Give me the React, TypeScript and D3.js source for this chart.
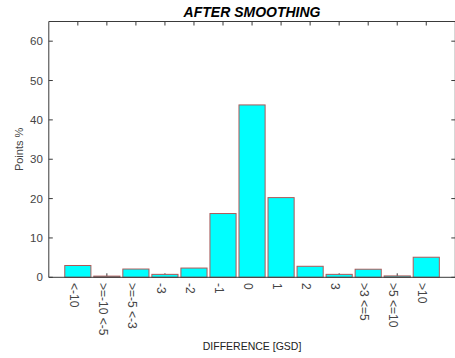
import React from "react";
import * as d3 from "d3";

const categories = ["<-10", ">=-10 <-5", ">=-5 <-3", "-3", "-2", "-1", "0", "1", "2", "3", ">3 <=5", ">5 <=10", ">10"];
const values = [3.0, 0.3, 2.1, 0.75, 2.35, 16.2, 43.8, 20.25, 2.8, 0.75, 2.05, 0.35, 5.1];
const yTicks = [0, 10, 20, 30, 40, 50, 60];

const W = 455;
const H = 358;
const left = 48.8;
const right = 455.3;
const top = 21.5;
const bottom = 277.3;

export default function App() {
  const x = d3.scaleLinear().domain([0, 14]).range([left, right]);
  const y = d3.scaleLinear().domain([0, 65]).range([bottom, top]);
  const barW = 0.9;
  const axisColor = "#3a3a3a";
  const textColor = "#444";
  const font = "Arial, 'Liberation Sans', sans-serif";

  return (
    <svg width={W} height={H} style={{ position: "absolute", left: 0, top: 0, background: "#fff" }} fontFamily={font}>
      {/* inward ticks along bottom and top */}
      {categories.map((c, i) => (
        <g key={"xt" + c}>
          <line x1={x(i + 1)} x2={x(i + 1)} y1={bottom} y2={bottom - 4} stroke={axisColor} />
          <line x1={x(i + 1)} x2={x(i + 1)} y1={top} y2={top + 4} stroke={axisColor} />
        </g>
      ))}
      {/* bars */}
      {values.map((v, i) => (
        <rect
          key={"b" + i}
          x={x(i + 1 - barW / 2)}
          y={y(v)}
          width={x(barW) - x(0)}
          height={y(0) - y(v)}
          fill="#00ffff"
          stroke="#b05858"
          strokeWidth={1}
        />
      ))}
      {/* axes box */}
      <line x1={left} x2={left} y1={top} y2={bottom} stroke={axisColor} />
      <line x1={left} x2={right} y1={bottom} y2={bottom} stroke={axisColor} />
      <line x1={left} x2={right} y1={top} y2={top} stroke={axisColor} />
      <line x1={right} x2={right} y1={top} y2={bottom} stroke={axisColor} />
      {/* y ticks and labels */}
      {yTicks.map((t) => (
        <g key={"yt" + t}>
          <line x1={left} x2={left + 4} y1={y(t)} y2={y(t)} stroke={axisColor} />
          <line x1={right - 4} x2={right} y1={y(t)} y2={y(t)} stroke={axisColor} />
          <text x={left - 6} y={y(t)} dy="0.35em" textAnchor="end" fontSize={11.5} fill={textColor}>
            {t}
          </text>
        </g>
      ))}
      {/* rotated category labels */}
      {categories.map((c, i) => (
        <text
          key={"xl" + c}
          transform={`translate(${x(i + 1) - 8},283) rotate(90)`}
          textAnchor="start"
          fontSize={12}
          fill={textColor}
        >
          {c}
        </text>
      ))}
      <text x={(left + right) / 2} y={17} textAnchor="middle" fontSize={14} fontWeight="bold" fontStyle="italic" fill="#000">
        AFTER SMOOTHING
      </text>
      <text x={(left + right) / 2} y={350} textAnchor="middle" fontSize={10.5} fill="#222">
        DIFFERENCE [GSD]
      </text>
      <text transform={`translate(23,${(top + bottom) / 2}) rotate(-90)`} textAnchor="middle" fontSize={11} fill={textColor}>
        Points %
      </text>
    </svg>
  );
}
